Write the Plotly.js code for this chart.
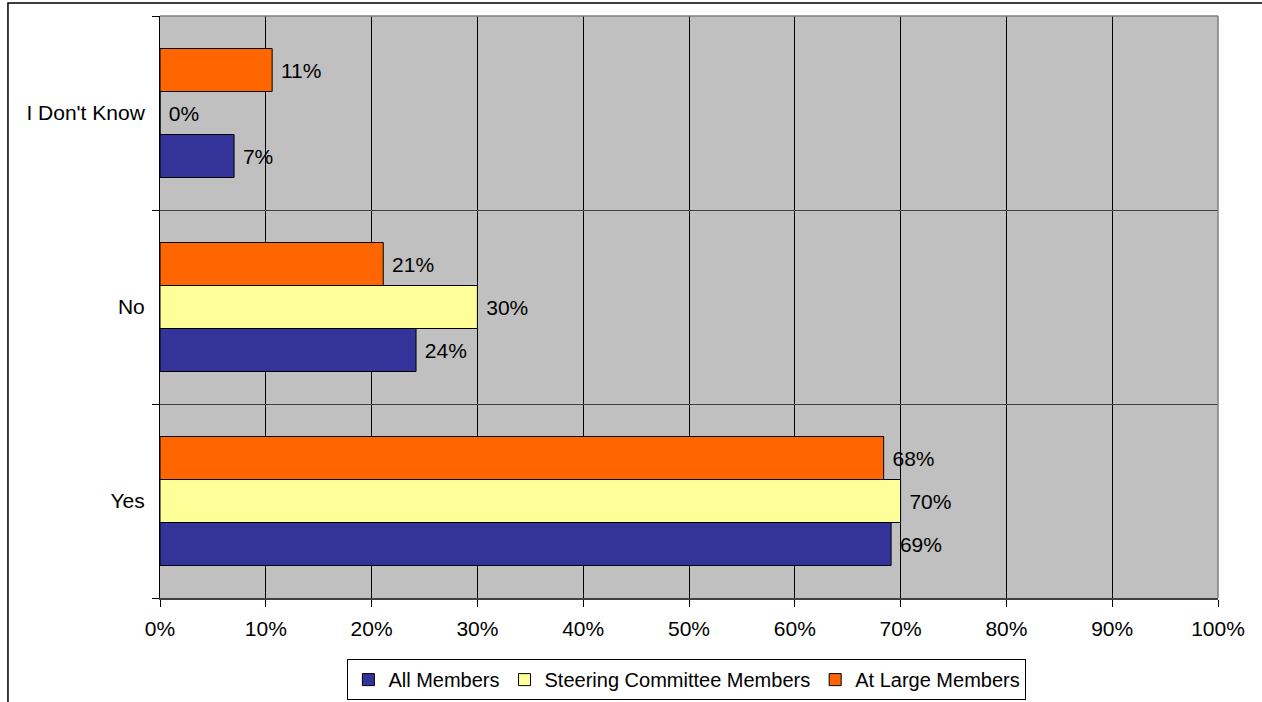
<!DOCTYPE html>
<html>
<head>
<meta charset="utf-8">
<script src="https://cdn.plot.ly/plotly-3.0.1.min.js"></script>
<style>
  html, body { margin: 0; padding: 0; background: #fff; }
  #chart { width: 1262px; height: 702px; }
</style>
</head>
<body>
<div id="chart"></div>
<script>
// answers, bottom to top as drawn
var categories = ['Yes', 'No', "I Don't Know"];
var seriesNames = ['All Members', 'Steering Committee Members', 'At Large Members'];
var allMembers = [0.691, 0.242, 0.07];
var steeringMembers = [0.70, 0.30, 0.0];
var atLargeMembers = [0.684, 0.211, 0.106];
var xTicks = [0, 0.1, 0.2, 0.3, 0.4, 0.5, 0.6, 0.7, 0.8, 0.9, 1.0];

var barColors = ['#333399', '#FFFF99', '#FF6600'];
var seriesValues = [allMembers, steeringMembers, atLargeMembers];

var data = [];
for (var i = 0; i < seriesValues.length; i++) {
  data.push({
    type: 'bar',
    orientation: 'h',
    name: seriesNames[i],
    y: categories,
    x: seriesValues[i],
    marker: { color: barColors[i], line: { color: '#000', width: 1 } },
    texttemplate: ' %{x:.0%}',
    textposition: 'outside',
    cliponaxis: false,
    textfont: { family: 'Arial, Liberation Sans', size: 21, color: '#000' },
    hoverinfo: 'x+name'
  });
}

var layout = {
  width: 1262,
  height: 702,
  margin: { l: 160, r: 44, t: 16, b: 104, autoexpand: false },
  paper_bgcolor: '#fff',
  plot_bgcolor: '#C0C0C0',
  barmode: 'group',
  bargap: 0.335,
  bargroupgap: 0,
  font: { family: 'Arial, Liberation Sans', size: 21, color: '#000' },
  showlegend: true,
  legend: {
    orientation: 'h',
    x: 0.498, xanchor: 'center',
    y: -0.105, yanchor: 'top',
    bordercolor: '#000', borderwidth: 1,
    font: { size: 20 },
    itemwidth: 30,
    traceorder: 'normal'
  },
  xaxis: {
    range: [0, 1],
    tickvals: xTicks,
    tickformat: '.0%',
    showgrid: true,
    gridcolor: '#000',
    gridwidth: 1,
    zeroline: false,
    showline: true,
    linecolor: '#404040',
    linewidth: 2,
    ticks: 'outside',
    ticklen: 7,
    tickcolor: '#000',
    ticklabelstandoff: 4,
    automargin: false,
    fixedrange: true
  },
  yaxis: {
    type: 'category',
    tickson: 'boundaries',
    showgrid: true,
    gridcolor: '#404040',
    gridwidth: 1,
    showline: true,
    linecolor: '#000',
    linewidth: 1,
    ticks: 'outside',
    ticklen: 7,
    tickcolor: '#000',
    ticklabelstandoff: 10,
    automargin: false,
    fixedrange: true
  },
  shapes: [
    // outer chart border (partly cropped)
    { type: 'rect', xref: 'paper', yref: 'paper',
      x0: -0.1437, x1: 1.2, y0: -1, y1: 1.0223,
      line: { color: '#000', width: 1.5 } },
    // plot area top and right edges
    { type: 'line', xref: 'paper', yref: 'paper', x0: 0, x1: 1, y0: 1, y1: 1,
      line: { color: '#808080', width: 1.5 } },
    { type: 'line', xref: 'paper', yref: 'paper', x0: 1, x1: 1, y0: 0, y1: 1,
      line: { color: '#808080', width: 1.5 } }
  ]
};

Plotly.newPlot('chart', data, layout, { displayModeBar: false, staticPlot: true });
</script>
</body>
</html>
